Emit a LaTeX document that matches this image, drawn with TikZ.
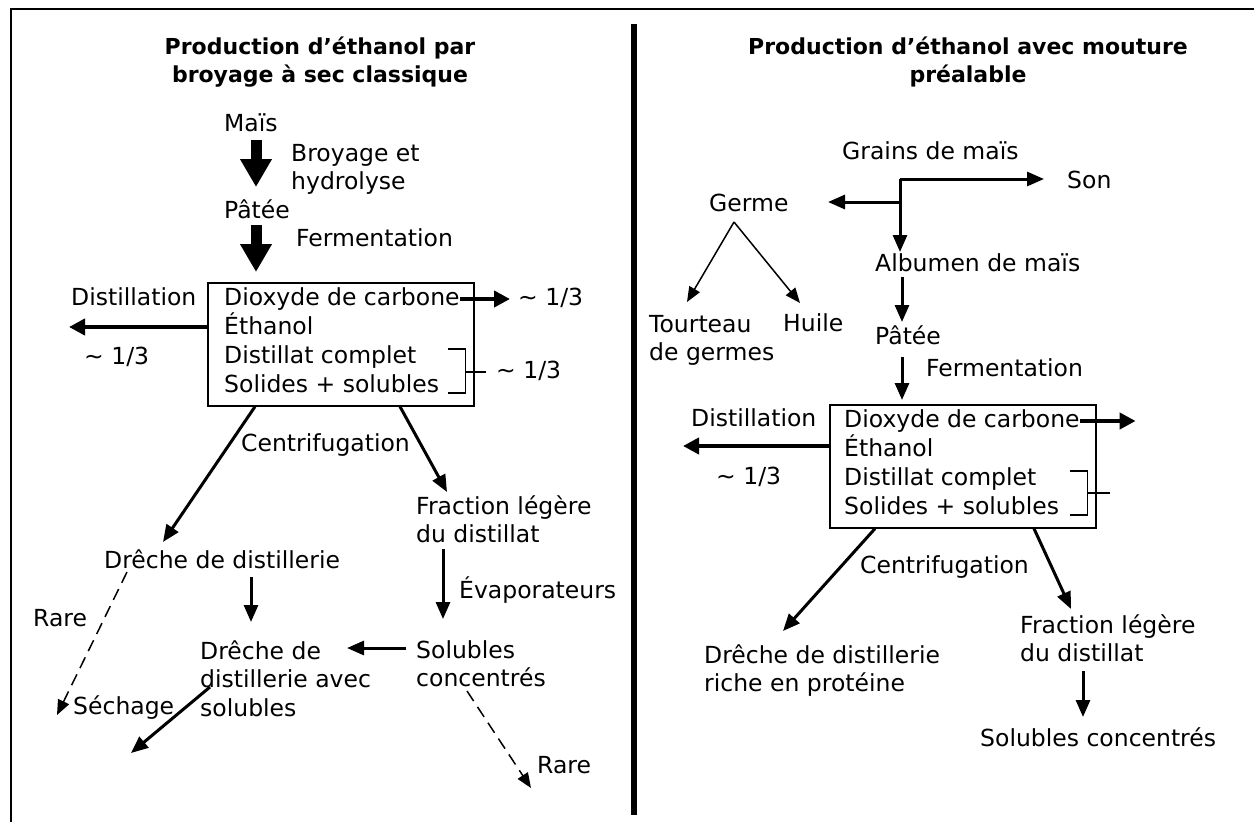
\documentclass[tikz,border=0pt]{standalone}
\usepackage{fontspec}
\setmainfont{DejaVu Sans}
\usetikzlibrary{arrows.meta}
\begin{document}
\begin{tikzpicture}[x=1pt, y=-1pt,
  every node/.style={font=\fontsize{23.5}{28.5}\selectfont},
  txt/.style={anchor=west, inner sep=0pt, text height=17pt, text depth=5pt},
  mtxt/.style={anchor=north west, inner sep=0pt, align=left},
  titre/.style={align=center, inner sep=0pt, font=\fontsize{22}{28}\selectfont\bfseries},
  boite/.style={draw, line width=1.6pt, anchor=north west, minimum width=266pt, minimum height=123pt, inner sep=0pt},
  gros/.style={line width=11pt, -{Triangle[length=28pt, width=30pt]}},
  fleche/.style={line width=3pt, -{Triangle[length=17pt, width=14pt]}},
  hfleche/.style={line width=4pt, -{Triangle[length=16pt, width=16pt]}},
  fine/.style={line width=1.5pt, -{Triangle[length=15pt, width=12pt]}},
  tiret/.style={line width=1.5pt, dash pattern=on 12pt off 7pt, -{Triangle[length=15pt, width=12pt]}},
  crochet/.style={line width=1.5pt}]
\useasboundingbox (0,0) rectangle (1254,822);
\draw[line width=2pt] (11,822) -- (11,9) -- (1254,9);
\draw[line width=6pt] (634,24) -- (634,815);

% broyage a sec
\node[titre] (titreA) at (320,62) {Production d’éthanol par\\broyage à sec classique};
\node[txt] (mais) at (224,125) {Maïs};
\node[mtxt] (broyage) at (291,144) {Broyage et\\hydrolyse};
\node[txt] (pateeA) at (224,212) {Pâtée};
\node[txt] (fermA) at (296,240) {Fermentation};
\node[boite] (boiteA) at (207,282) {};
\foreach \t [count=\i] in {Dioxyde de carbone, Éthanol, Distillat complet, Solides + solubles}
  \node[txt] (lA\i) at (224,270+29*\i) {\t};
\node[txt] (distA) at (71,299) {Distillation};
\node[txt] (tiersA) at (84,358) {\textasciitilde\ 1/3};
\node[txt] (tiersB) at (518,299) {\textasciitilde\ 1/3};
\node[txt] (tiersC) at (496,372) {\textasciitilde\ 1/3};
\node[txt] (centriA) at (241,445) {Centrifugation};
\node[mtxt] (fracA) at (416,495) {Fraction légère\\du distillat};
\node[txt] (drecheA) at (104,562) {Drêche de distillerie};
\node[txt] (rareA) at (33,620) {Rare};
\node[txt] (evap) at (459,592) {Évaporateurs};
\node[mtxt] (solA) at (416,640) {Solubles\\concentrés};
\node[mtxt] (drecheB) at (200,640) {Drêche de\\distillerie avec\\solubles};
\node[txt] (sechage) at (73,708) {Séchage};
\node[txt] (rareB) at (537,767) {Rare};

\draw[gros] ([shift={(32,15)}]mais.west) -- ([shift={(32,-25)}]pateeA.west);
\draw[gros] ([shift={(32,13)}]pateeA.west) -- ([shift={(49,-10)}]boiteA.north west);
\draw[hfleche] (lA1.east) -- ([xshift=-8pt]tiersB.west);
\draw[hfleche] ([shift={(0,45)}]boiteA.north west) -- ([shift={(-2,28)}]distA.west);
\draw[crochet] ([shift={(-27,67)}]boiteA.north east) -- ++(18,0) -- ++(0,44) -- ++(-18,0);
\draw[crochet] ([xshift=-9pt]boiteA.east |- tiersC.west) -- ([xshift=-10pt]tiersC.west);
\draw[fleche] ([xshift=48pt]boiteA.south west) -- ([shift={(59,-20)}]drecheA.west);
\draw[fleche] ([xshift=193pt]boiteA.south west) -- ([shift={(31,-3)}]fracA.north west);
\draw[fleche] ([shift={(147,15)}]drecheA.west) -- ([shift={(51,-18)}]drecheB.north west);
\draw[tiret] ([shift={(23,10)}]drecheA.west) -- ([shift={(-16,7)}]sechage.west);
\draw[fleche] ([shift={(27,54)}]fracA.north west) -- ([shift={(27,-21)}]solA.north west);
\draw[fleche] ([shift={(-10,8)}]solA.north west) -- ([shift={(147,8)}]drecheB.north west);
\draw[fleche] ([shift={(10,47)}]drecheB.north west) -- ([shift={(58,45)}]sechage.west);
\draw[tiret] ([shift={(51,51)}]solA.north west) -- ([shift={(-6,21)}]rareB.west);

% mouture prealable
\node[titre] (titreB) at (968,62) {Production d’éthanol avec mouture\\préalable};
\node[txt] (grains) at (842,153) {Grains de maïs};
\node[txt] (son) at (1067,182) {Son};
\node[txt] (germe) at (709,205) {Germe};
\node[mtxt] (tourteau) at (649,315) {Tourteau\\de germes};
\node[txt] (huile) at (783,325) {Huile};
\node[txt] (albumen) at (875,265) {Albumen de maïs};
\node[txt] (pateeB) at (875,338) {Pâtée};
\node[txt] (fermB) at (926,370) {Fermentation};
\node[boite] (boiteB) at (829,404) {};
\foreach \t [count=\i] in {Dioxyde de carbone, Éthanol, Distillat complet, Solides + solubles}
  \node[txt] (lB\i) at (844,392+29*\i) {\t};
\node[txt] (distB) at (691,420) {Distillation};
\node[txt] (tiersD) at (716,478) {\textasciitilde\ 1/3};
\node[txt] (centriB) at (860,567) {Centrifugation};
\node[mtxt] (drecheC) at (704,644) {Drêche de distillerie\\riche en protéine};
\node[mtxt] (fracB) at (1020,614) {Fraction légère\\du distillat};
\node[txt] (solB) at (980,740) {Solubles concentrés};

\coordinate (noeud) at ([shift={(58,26)}]grains.west);
\draw[fleche] (noeud) -- ([shift={(-23,-3)}]son.west);
\draw[fleche] (noeud) -- ([shift={(25,-13)}]albumen.west);
\draw[fleche] ([yshift=-23pt]noeud) -- ([shift={(119,-3)}]germe.west);
\draw[fine] ([shift={(25,17)}]germe.west) -- ([shift={(38,-13)}]tourteau.north west);
\draw[fine] ([shift={(25,17)}]germe.west) -- ([shift={(17,-22)}]huile.west);
\draw[fleche] ([shift={(27,12)}]albumen.west) -- ([shift={(27,-16)}]pateeB.west);
\draw[fleche] ([shift={(27,19)}]pateeB.west) -- ([shift={(73,-4)}]boiteB.north west);
\draw[hfleche] (lB1.east) -- ([shift={(39,17)}]boiteB.north east);
\draw[hfleche] ([shift={(0,42)}]boiteB.north west) -- ([shift={(-8,26)}]distB.west);
\draw[crochet] ([shift={(-27,67)}]boiteB.north east) -- ++(18,0) -- ++(0,44) -- ++(-18,0);
\draw[crochet] ([shift={(-9,89)}]boiteB.north east) -- ++(22,0);
\draw[fleche] ([xshift=46pt]boiteB.south west) -- ([shift={(79,-13)}]drecheC.north west);
\draw[fleche] ([xshift=205pt]boiteB.south west) -- ([shift={(51,-5)}]fracB.north west);
\draw[fleche] ([shift={(63,57)}]fracB.north west) -- ([shift={(103,-23)}]solB.west);
\end{tikzpicture}
\end{document}
